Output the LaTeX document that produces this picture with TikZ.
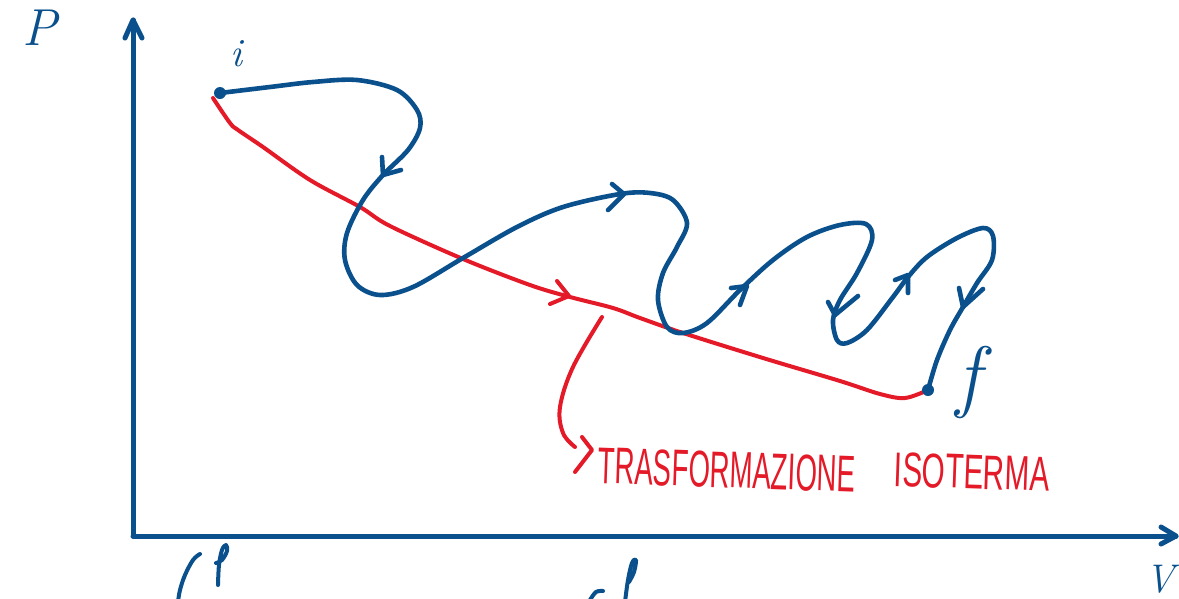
\documentclass[tikz,border=0pt]{standalone}
\usepackage{fontspec}
\usepackage{graphicx}
\newfontfamily\handfont{Liberation Sans}
\usetikzlibrary{arrows.meta}
\definecolor{penblue}{RGB}{10,80,140}
\definecolor{penred}{RGB}{228,26,40}
\begin{document}
\begin{tikzpicture}[x=1pt,y=-1pt,
  blueline/.style={draw=penblue,line width=4.6pt,line cap=round,line join=round},
  redline/.style={draw=penred,line width=4pt,line cap=round,line join=round},
  axisline/.style={draw=penblue,line width=5pt,line cap=round,line join=round},
  dotnode/.style={circle,fill=penblue,inner sep=0pt,minimum size=12pt},
  bluetext/.style={text=penblue,inner sep=0pt,font=\itshape},
  redtext/.style={text=penred,inner sep=0pt,rotate=-2}
]
\useasboundingbox (0,0) rectangle (1179,598);
\clip (0,0) rectangle (1179,598);
\fill[white] (0,0) rectangle (1179,598);

% axes
\coordinate (O) at (133,536);
\coordinate (Ytop) at (133,20);
\coordinate (Xend) at (1176,536);
\draw[axisline] (O) -- (Ytop);
\draw[axisline] (O) -- (Xend);
\draw[axisline] (125,38) -- (Ytop) -- (142,38);
\draw[axisline] (1161,527) -- (Xend) -- (1161,544);

% end points
\coordinate (pi) at (220,93);
\coordinate (pf) at (928,390);

% red isothermal
\draw[redline] plot[smooth,tension=0.55] coordinates {(213,98) (230,123) (238,130) (263,147) (310,180) (360,207) (390,226) (463,259) (530,285) (570,297) (613,308) (640,318) (683,333) (763,358) (840,381) (880,394) (905,398) (pf)};
\draw[redline] (557,281) -- (569,296) -- (550,304);

% pointer to label
\coordinate (ptr) at (602,317);
\draw[redline] plot[smooth,tension=0.6] coordinates {(ptr) (573,367) (560,407) (563,433) (575,447)};
\draw[redline] (582,437) -- (592,450) -- (575,472);

% blue irreversible path
\draw[blueline] plot[smooth,tension=0.55] coordinates {(pi) (270,87) (313,82) (357,80) (397,90) (417,110) (420,128) (408,150) (383,175) (363,200) (347,233) (345,260) (357,285) (380,295) (413,287) (463,258) (517,227) (563,207) (620,194) (650,193) (673,200) (687,223) (677,247) (663,273) (658,300) (667,327) (683,333) (707,323) (740,290) (773,260) (807,237) (840,225) (866,224) (872,240) (857,273) (840,300) (833,320) (837,340) (847,343) (867,330) (893,297) (908,277) (927,257) (957,238) (983,228) (993,236) (992,260) (977,283) (963,307) (950,330) (937,360) (pf)};
% blue direction chevrons
\draw[blueline] (382,157) -- (383,175) -- (401,170);
\draw[blueline] (612,184) -- (624,194) -- (608,210);
\draw[blueline] (731,288) -- (747,286) -- (740,305);
\draw[blueline] (858,296) -- (835,315) -- (828,302);
\draw[blueline] (895,280) -- (908,275) -- (908,293);
\draw[blueline] (959,288) -- (963,307) -- (983,289);

% dots
\node[dotnode] (i) at (pi) {};
\node[dotnode] (f) at (pf) {};

% labels
\node[bluetext,font=\fontsize{52}{52}\selectfont\itshape] (Plabel) at (40,28) {P};
\node[bluetext,font=\fontsize{40}{40}\selectfont\itshape] (ilabel) at (236,54) {i};
\node[bluetext,font=\fontsize{80}{80}\selectfont\itshape] (flabel) at (968,382) {f};
\node[bluetext,font=\fontsize{40}{40}\selectfont\itshape] (Vlabel) at (1160,579) {V};

\node[redtext] (word1) at (727,470) {\resizebox{257pt}{36pt}{\handfont TRASFORMAZIONE}};
\node[redtext] (word2) at (972,472) {\resizebox{155pt}{34pt}{\handfont ISOTERMA}};

% clipped fragments at the bottom
\draw[blueline,line width=4pt] plot[smooth,tension=0.6] coordinates {(200,554) (193,560) (185,575) (180,590) (178,602)};
\draw[blueline,line width=4pt] plot[smooth,tension=0.6] coordinates {(218,585) (219,565) (222,550) (226,545) (227,551) (222,560) (216,563)};
\draw[blueline,line width=4pt] plot[smooth,tension=0.6] coordinates {(625,602) (628,580) (632,563) (636,560) (634,572) (629,582)};
\draw[blueline,line width=4pt] plot[smooth,tension=0.6] coordinates {(590,600) (596,592) (603,591)};
\end{tikzpicture}
\end{document}
